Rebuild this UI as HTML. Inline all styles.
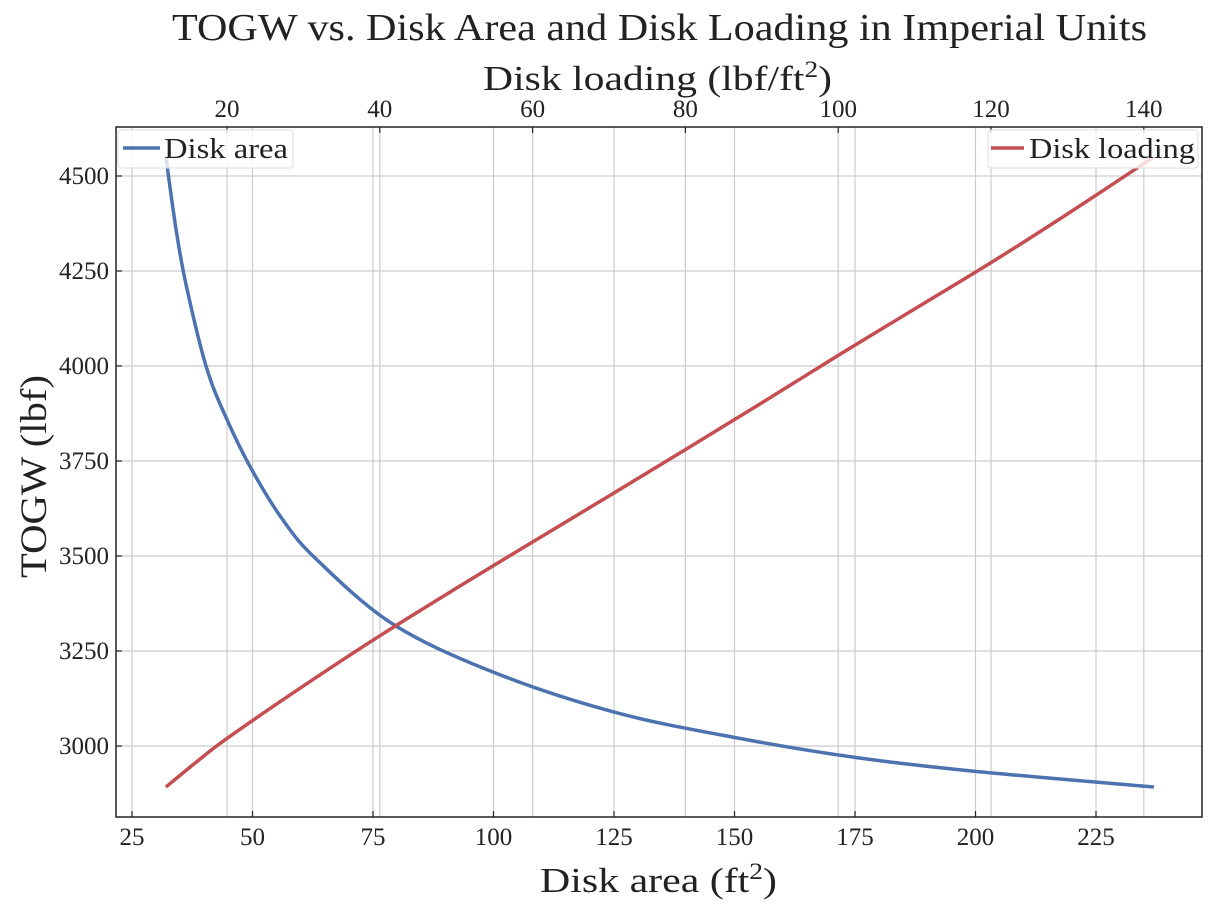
<!DOCTYPE html>
<html><head><meta charset="utf-8"><style>
body{margin:0;background:#fff;}
svg text{font-family:"Liberation Serif",serif;fill:#222;}
</style></head><body>
<svg id="chart" width="1212" height="911">
<g id="grid"></g>
<g id="series"></g>
<rect x="116" y="127" width="1086" height="690" fill="none" stroke="#222" stroke-width="1.5"/>
<g id="axes"></g>
<text x="172" y="40" font-size="38" textLength="975" lengthAdjust="spacingAndGlyphs">TOGW vs. Disk Area and Disk Loading in Imperial Units</text>
<text x="483" y="90" font-size="35" textLength="349" lengthAdjust="spacingAndGlyphs">Disk loading (lbf/ft<tspan dy="-13" font-size="23">2</tspan><tspan dy="13">)</tspan></text>
<text x="540" y="892" font-size="35" textLength="237" lengthAdjust="spacingAndGlyphs">Disk area (ft<tspan dy="-13" font-size="23">2</tspan><tspan dy="13">)</tspan></text>
<text transform="translate(46,578) rotate(-90)" font-size="37" textLength="203" lengthAdjust="spacingAndGlyphs">TOGW (lbf)</text>
<g>
<rect x="118" y="130" width="175" height="38" fill="#fff" fill-opacity="0.8" stroke="#ddd" rx="3"/>
<line x1="123" y1="148" x2="160" y2="148" stroke="#4c72b0" stroke-width="3.5"/>
<text x="164" y="158" font-size="29" textLength="124" lengthAdjust="spacingAndGlyphs">Disk area</text>
</g>
<g>
<rect x="988" y="130" width="210" height="38" fill="#fff" fill-opacity="0.8" stroke="#ddd" rx="3"/>
<line x1="991" y1="148" x2="1024" y2="148" stroke="#c44e52" stroke-width="3.5"/>
<text x="1029" y="158" font-size="29" textLength="166" lengthAdjust="spacingAndGlyphs">Disk loading</text>
</g>
</svg>
<script>
const areaTicks=[25,50,75,100,125,150,175,200,225];
const loadTicks=[20,40,60,80,100,120,140];
const togwTicks=[3000,3250,3500,3750,4000,4250,4500];
const blueArea=[32.05,34.1,36.2,40.4,44.7,49.9,56.3,63.2,79.1,100.2,125.1,150.2,175,200.2,237];
const blueTogw=[4548,4363,4215,3998,3859,3726,3595,3492,3321,3193,3089,3022,2970,2933,2892];
const redLoad=[12,16,20,30,40,50,60,70,80,90,100,110,120,130,141.3];
const redTogw=[2892,2958,3020,3158,3290,3415,3537,3658,3780,3903,4028,4150,4272,4400,4550];
const NS='http://www.w3.org/2000/svg';
const xA=v=>132+(v-25)*4.82;
const xL=v=>227+(v-20)*7.64;
const yT=v=>746-(v-3000)*0.38;
function mk(t,a,p){const e=document.createElementNS(NS,t);for(const k in a)e.setAttribute(k,a[k]);document.getElementById(p).appendChild(e);return e;}
areaTicks.forEach(v=>{const x=xA(v);
const g=mk('line',{x1:x,x2:x,y1:127,y2:817,stroke:'#ccc','stroke-width':1.2},'grid');


mk('line',{x1:x,x2:x,y1:817,y2:811,stroke:'#222','stroke-width':1.2},'axes');
const t=mk('text',{x:x,y:845,'font-size':25,'text-anchor':'middle'},'axes');t.textContent=v;

});
loadTicks.forEach(v=>{const x=xL(v);
const g=mk('line',{x1:x,x2:x,y1:127,y2:817,stroke:'#ccc','stroke-width':1.2},'grid');


mk('line',{x1:x,x2:x,y1:127,y2:133,stroke:'#222','stroke-width':1.2},'axes');
const t=mk('text',{x:x,y:117,'font-size':25,'text-anchor':'middle'},'axes');t.textContent=v;

});
togwTicks.forEach(v=>{const y=yT(v);
const g=mk('line',{x1:116,x2:1202,y1:y,y2:y,stroke:'#ccc','stroke-width':1.2},'grid');


mk('line',{x1:116,x2:122,y1:y,y2:y,stroke:'#222','stroke-width':1.2},'axes');
const t=mk('text',{x:109,y:y+8,'font-size':25,'text-anchor':'end'},'axes');t.textContent=v;

});
function path(pts){let d='M'+pts[0][0]+','+pts[0][1];
for(let i=0;i<pts.length-1;i++){const p0=pts[Math.max(i-1,0)],p1=pts[i],p2=pts[i+1],p3=pts[Math.min(i+2,pts.length-1)];
const c1=[p1[0]+(p2[0]-p0[0])/6,p1[1]+(p2[1]-p0[1])/6],c2=[p2[0]-(p3[0]-p1[0])/6,p2[1]-(p3[1]-p1[1])/6];
d+=' C'+c1+' '+c2+' '+p2;}return d;}
const bp=mk('path',{d:path(blueArea.map((a,i)=>[xA(a),yT(blueTogw[i])])),fill:'none',stroke:'#4c72b0','stroke-width':3.5},'series');


const rp=mk('path',{d:path(redLoad.map((a,i)=>[xL(a),yT(redTogw[i])])),fill:'none',stroke:'#c44e52','stroke-width':3.5},'series');


</script>
</body></html>
